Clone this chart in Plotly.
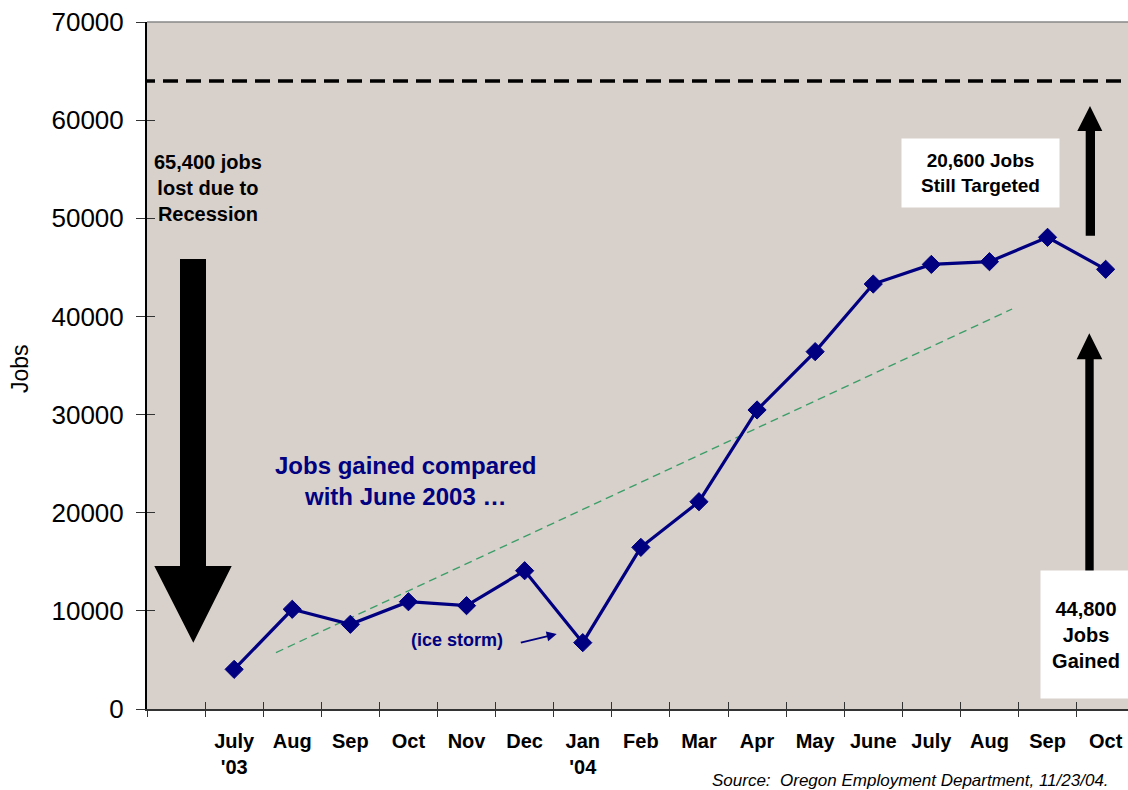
import plotly.graph_objects as go

# ---------------- data ----------------
categories = ["", "July<br>'03", "Aug", "Sep", "Oct", "Nov", "Dec", "Jan<br>'04",
              "Feb", "Mar", "Apr", "May", "June", "July", "Aug", "Sep", "Oct"]
jobs_gained = [None, 4040, 10160, 8630, 10930, 10530, 14090, 6760,
               16470, 21120, 30470, 36410, 43300, 45300, 45580, 48060, 44800]
trend_x = [1.72, 14.39]
trend_y = [5740, 40760]
target_jobs = 64000
y_ticks = [0, 10000, 20000, 30000, 40000, 50000, 60000, 70000]

# ---------------- geometry ----------------
W, H = 1128, 790
L, T, B, R = 147, 22, 81, 0
plot_w = W - L - R
plot_h = H - T - B
unit = 58.1
x_min = -0.5
x_max = x_min + plot_w / unit
y_max = 70000

def X(px):
    return x_min + (px - L) / unit

def Y(py):
    return (H - B - py) / plot_h * y_max

def path(pts):
    s = "M " + " L ".join(f"{X(a):.4f},{Y(b):.2f}" for a, b in pts) + " Z"
    return s

NAVY = "#000080"
FONT = "Liberation Sans, Arial, sans-serif"
idx = list(range(len(categories)))
bounds = [i - 0.5 for i in range(len(categories) + 1)]

fig = go.Figure()

# trend line
fig.add_trace(go.Scatter(x=trend_x, y=trend_y, mode="lines",
                         line=dict(color="#3A9E68", width=1.3, dash="8px,5px"),
                         hoverinfo="skip", showlegend=False))
# main series
fig.add_trace(go.Scatter(x=idx, y=jobs_gained, mode="lines+markers",
                         line=dict(color=NAVY, width=3.2),
                         marker=dict(symbol="diamond", size=14, color=NAVY,
                                     line=dict(color=NAVY, width=1)),
                         showlegend=False))
# empty traces for overlay axes
fig.add_trace(go.Scatter(x=[], y=[], xaxis="x2", yaxis="y", showlegend=False))
fig.add_trace(go.Scatter(x=[], y=[], xaxis="x3", yaxis="y", showlegend=False))
fig.add_trace(go.Scatter(x=[], y=[], xaxis="x", yaxis="y2", showlegend=False))

# target dashed line
fig.add_shape(type="line", xref="x", yref="y", x0=X(140), x1=x_max,
              y0=target_jobs, y1=target_jobs,
              line=dict(color="black", width=3.5, dash="15px,8px"))
# top border
fig.add_shape(type="line", xref="paper", yref="paper", x0=0, x1=1, y0=1, y1=1,
              line=dict(color="#888888", width=1.5))

# big arrows
arrow_style = dict(type="path", xref="x", yref="y", fillcolor="black",
                   line=dict(color="black", width=0), layer="above")
fig.add_shape(path=path([(180, 259), (206, 259), (206, 566), (231.7, 566),
                         (193.3, 642.7), (154.3, 566), (180, 566)]), **arrow_style)
fig.add_shape(path=path([(1085.7, 235.7), (1095, 235.7), (1095, 131), (1102.3, 131),
                         (1090, 106), (1077.3, 131), (1085.7, 131)]), **arrow_style)
fig.add_shape(path=path([(1085.3, 575), (1093.7, 575), (1093.7, 359.3), (1102.3, 359.3),
                         (1089.3, 333.3), (1076.7, 359.3), (1085.3, 359.3)]), **arrow_style)

ann_font = dict(family=FONT, color="black", size=20)
annotations = [
    dict(x=X(208), y=Y(188), xref="x", yref="y", showarrow=False,
         xanchor="center", yanchor="middle",
         text="<b>65,400 jobs<br>lost due to<br>Recession</b>", font=ann_font),
    dict(x=X(980.3), y=Y(173), xref="x", yref="y", showarrow=False,
         xanchor="center", yanchor="middle",
         text="<b>20,600 Jobs<br>Still Targeted</b>", font=dict(family=FONT, color="black", size=19),
         bgcolor="white", width=157, height=68, borderpad=0),
    dict(x=X(1086), y=Y(634.3), xref="x", yref="y", showarrow=False,
         xanchor="center", yanchor="middle",
         text="<b>44,800<br>Jobs<br>Gained</b>", font=ann_font,
         bgcolor="white", width=90, height=127, borderpad=0),
    dict(x=X(405), y=Y(481), xref="x", yref="y", showarrow=False,
         xanchor="center", yanchor="middle",
         text="<b>Jobs gained compared<br>with June 2003 …</b>",
         font=dict(family=FONT, color=NAVY, size=24)),
    dict(x=X(457), y=Y(640), xref="x", yref="y", showarrow=False,
         xanchor="center", yanchor="middle",
         text="<b>(ice storm)</b>", font=dict(family=FONT, color=NAVY, size=18)),
    dict(x=X(556.7), y=Y(634), ax=X(519.3), ay=Y(643), xref="x", yref="y",
         axref="x", ayref="y", text="", showarrow=True, arrowhead=2,
         arrowsize=1, arrowwidth=2, arrowcolor=NAVY),
    dict(x=(1111 - L) / plot_w, y=(H - B - 780) / plot_h, xref="paper", yref="paper",
         xanchor="right", yanchor="middle", showarrow=False,
         text="<i>Source:\u00a0\u00a0Oregon Employment Department, 11/23/04.</i>",
         font=dict(family=FONT, color="black", size=17)),
    dict(x=(20 - L) / plot_w, y=(H - B - 369) / plot_h, xref="paper", yref="paper",
         xanchor="center", yanchor="middle",
         showarrow=False, text="Jobs", textangle=-90,
         font=dict(family=FONT, color="black", size=23)),
]

fig.update_layout(
    width=W, height=H,
    margin=dict(l=L, r=R, t=T, b=B, pad=0, autoexpand=False),
    paper_bgcolor="white",
    plot_bgcolor="#D8D0CA",
    showlegend=False,
    font=dict(family=FONT, color="black"),
    annotations=annotations,
    xaxis=dict(range=[x_min, x_max], tickmode="array", tickvals=bounds,
               showticklabels=False, ticks="outside", ticklen=6, tickwidth=1,
               tickcolor="#333333", showline=True, linecolor="#333333", linewidth=2,
               showgrid=False, zeroline=False, fixedrange=True),
    xaxis3=dict(range=[x_min, x_max], overlaying="x", anchor="y", side="bottom",
                tickmode="array", tickvals=bounds, showticklabels=False,
                ticks="inside", ticklen=7, tickwidth=1, tickcolor="#333333",
                showline=False, showgrid=False, zeroline=False),
    xaxis2=dict(range=[x_min, x_max], overlaying="x", anchor="y", side="bottom",
                tickmode="array", tickvals=idx, ticktext=[f"<b>{c}</b>" if c else "" for c in categories],
                ticks="outside", ticklen=14, tickcolor="rgba(0,0,0,0)",
                tickfont=dict(family=FONT, size=20, color="black"),
                showline=False, showgrid=False, zeroline=False),
    yaxis=dict(range=[0, y_max], tickmode="array", tickvals=y_ticks, tickformat="d",
               ticks="outside", ticklen=9, tickwidth=1, tickcolor="#333333",
               ticklabelstandoff=7,
               tickfont=dict(family=FONT, size=26, color="black"),
               showline=True, linecolor="black", linewidth=2,
               showgrid=False, zeroline=False, fixedrange=True),
    yaxis2=dict(range=[0, y_max], overlaying="y", anchor="x", side="left",
                tickmode="array", tickvals=y_ticks, showticklabels=False,
                ticks="inside", ticklen=8, tickwidth=1, tickcolor="#333333",
                showline=False, showgrid=False, zeroline=False),
)

fig.write_html("out.html", config={"displayModeBar": False},
               post_script="document.body.style.margin='0';document.body.style.overflow='hidden';")
